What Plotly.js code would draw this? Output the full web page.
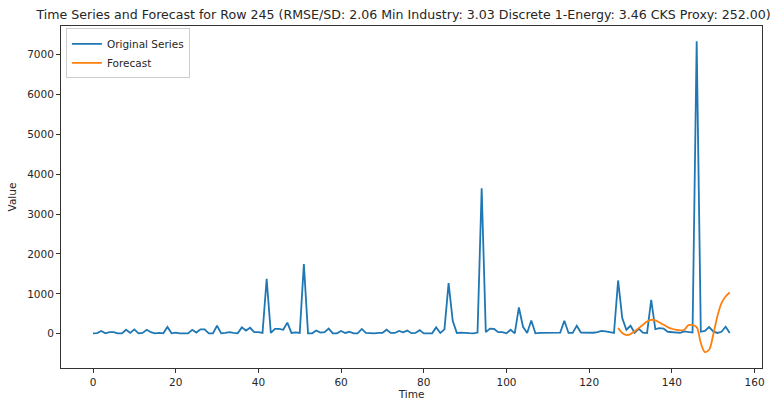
<!DOCTYPE html>
<html>
<head>
<meta charset="utf-8">
<script src="https://cdn.plot.ly/plotly-3.0.1.min.js"></script>
<style>
  html, body { margin: 0; padding: 0; background: #fff; }
  #chart { width: 776px; height: 400px; }
</style>
</head>
<body>
<div id="chart"></div>
<script>
// Observed series, one value per time step (t = 0 .. 154)
const originalValues = [
  10, 15, 70, 10, 40, 40, 10, 10, 100, 20,
  110, 10, 20, 100, 40, 10, 20, 10, 170, 10,
  30, 10, 10, 10, 100, 30, 110, 110, 10, 10,
  200, 10, 20, 40, 20, 10, 160, 80, 150, 40,
  40, 20, 1376, 20, 120, 120, 100, 280, 20, 35,
  20, 1744, 10, 10, 80, 30, 40, 130, 10, 10,
  70, 20, 50, 10, 10, 120, 20, 10, 10, 20,
  20, 100, 20, 20, 70, 35, 80, 15, 20, 90,
  10, 10, 10, 160, 20, 110, 1268, 325, 20, 30,
  30, 15, 10, 30, 3645, 40, 130, 120, 40, 40,
  10, 100, 10, 659, 175, 20, 333, 10, 20, 20,
  30, 20, 20, 30, 325, 20, 20, 200, 30, 25,
  25, 25, 40, 70, 60, 35, 20, 1335, 392, 100,
  200, 25, 125, 30, 20, 851, 117, 142, 130, 50,
  40, 30, 20, 60, 40, 30, 7330, 50, 70, 167,
  60, 20, 50, 175, 17
];

// Forecast over the final stretch (t = 127 .. 154)
const forecastStart = 127;
const forecastValues = [
  142, 17, -33, -8, 58, 142, 225, 308, 350, 333,
  283, 225, 167, 125, 100, 83, 100, 217, 217, 167,
  -233, -458, -400, -25, 433, 767, 933, 1033
];

const chartTitle = 'Time Series and Forecast for Row 245 (RMSE/SD: 2.06 Min Industry: 3.03 Discrete 1-Energy: 3.46 CKS Proxy: 252.00)';
const xTicks = [0, 20, 40, 60, 80, 100, 120, 140, 160];
const yTicks = [0, 1000, 2000, 3000, 4000, 5000, 6000, 7000];

const originalTime = originalValues.map((_, i) => i);
const forecastTime = forecastValues.map((_, i) => forecastStart + i);

const font = { family: 'DejaVu Sans, sans-serif', size: 10.5, color: '#262626' };

const traces = [
  {
    x: originalTime, y: originalValues, type: 'scatter', mode: 'lines',
    name: 'Original Series',
    line: { color: '#1f77b4', width: 1.8 }
  },
  {
    x: forecastTime, y: forecastValues, type: 'scatter', mode: 'lines',
    name: 'Forecast',
    line: { color: '#ff7f0e', width: 1.8, shape: 'spline', smoothing: 1 }
  }
];

const axisCommon = {
  showline: true, mirror: true, linecolor: '#333', linewidth: 1,
  ticks: 'outside', ticklen: 4, tickcolor: '#333', tickwidth: 1,
  showgrid: false, zeroline: false, tickfont: font
};

const layout = {
  width: 776, height: 400,
  margin: { l: 61, r: 14, t: 26, b: 32, pad: 0 },
  paper_bgcolor: '#fff', plot_bgcolor: '#fff',
  font: font,
  title: {
    text: chartTitle, font: { family: 'DejaVu Sans, sans-serif', size: 12.6, color: '#262626' },
    x: 0.52, xanchor: 'center', y: 0.963, yanchor: 'middle'
  },
  xaxis: Object.assign({}, axisCommon, {
    range: [-7.74, 161.8], tickvals: xTicks, ticktext: xTicks.map(String),
    title: { text: 'Time', font: font, standoff: 3 }
  }),
  yaxis: Object.assign({}, axisCommon, {
    range: [-858, 7710], tickvals: yTicks, ticktext: yTicks.map(String),
    title: { text: 'Value', font: font, standoff: 8 }
  }),
  showlegend: true,
  legend: {
    x: 0.007, y: 0.993, xanchor: 'left', yanchor: 'top',
    bgcolor: 'rgba(255,255,255,0.8)', bordercolor: '#cccccc', borderwidth: 1,
    font: font, tracegroupgap: 0, itemwidth: 30
  }
};

Plotly.newPlot('chart', traces, layout, { displayModeBar: false, staticPlot: true });
</script>
</body>
</html>
